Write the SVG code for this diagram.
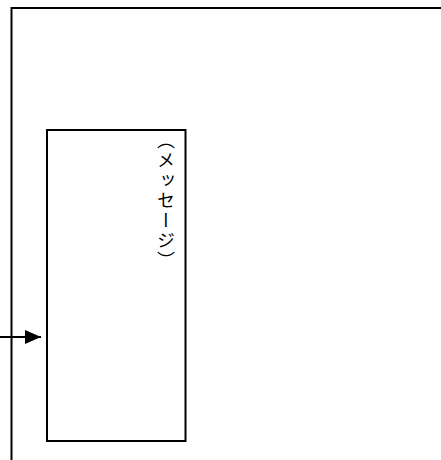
<svg xmlns="http://www.w3.org/2000/svg" width="441" height="460" viewBox="0 0 441 460">
<style>
.ln{stroke:#000;stroke-width:2;fill:none}
.lbl{font-family:"Noto Sans CJK JP","Noto Sans CJK SC",sans-serif;font-size:18px;fill:#000;writing-mode:vertical-rl;letter-spacing:2px}
</style>
<defs>
<marker id="ah" markerWidth="16" markerHeight="14" refX="16" refY="7" orient="auto" markerUnits="userSpaceOnUse">
<path d="M0,0 L16,7 L0,14 Z" fill="#000"/>
</marker>
</defs>
<rect width="441" height="460" fill="#fff"/>
<g id="frame">
<path class="ln" d="M11.5,460 V8 H441"/>
</g>
<g id="message">
<rect class="ln" x="47" y="130" width="138.5" height="311"/>
<text class="lbl" x="166" y="131">（メッセージ）</text>
</g>
<g id="connectors">
<line class="ln" x1="0" y1="337" x2="41" y2="337" marker-end="url(#ah)"/>
</g>
</svg>
